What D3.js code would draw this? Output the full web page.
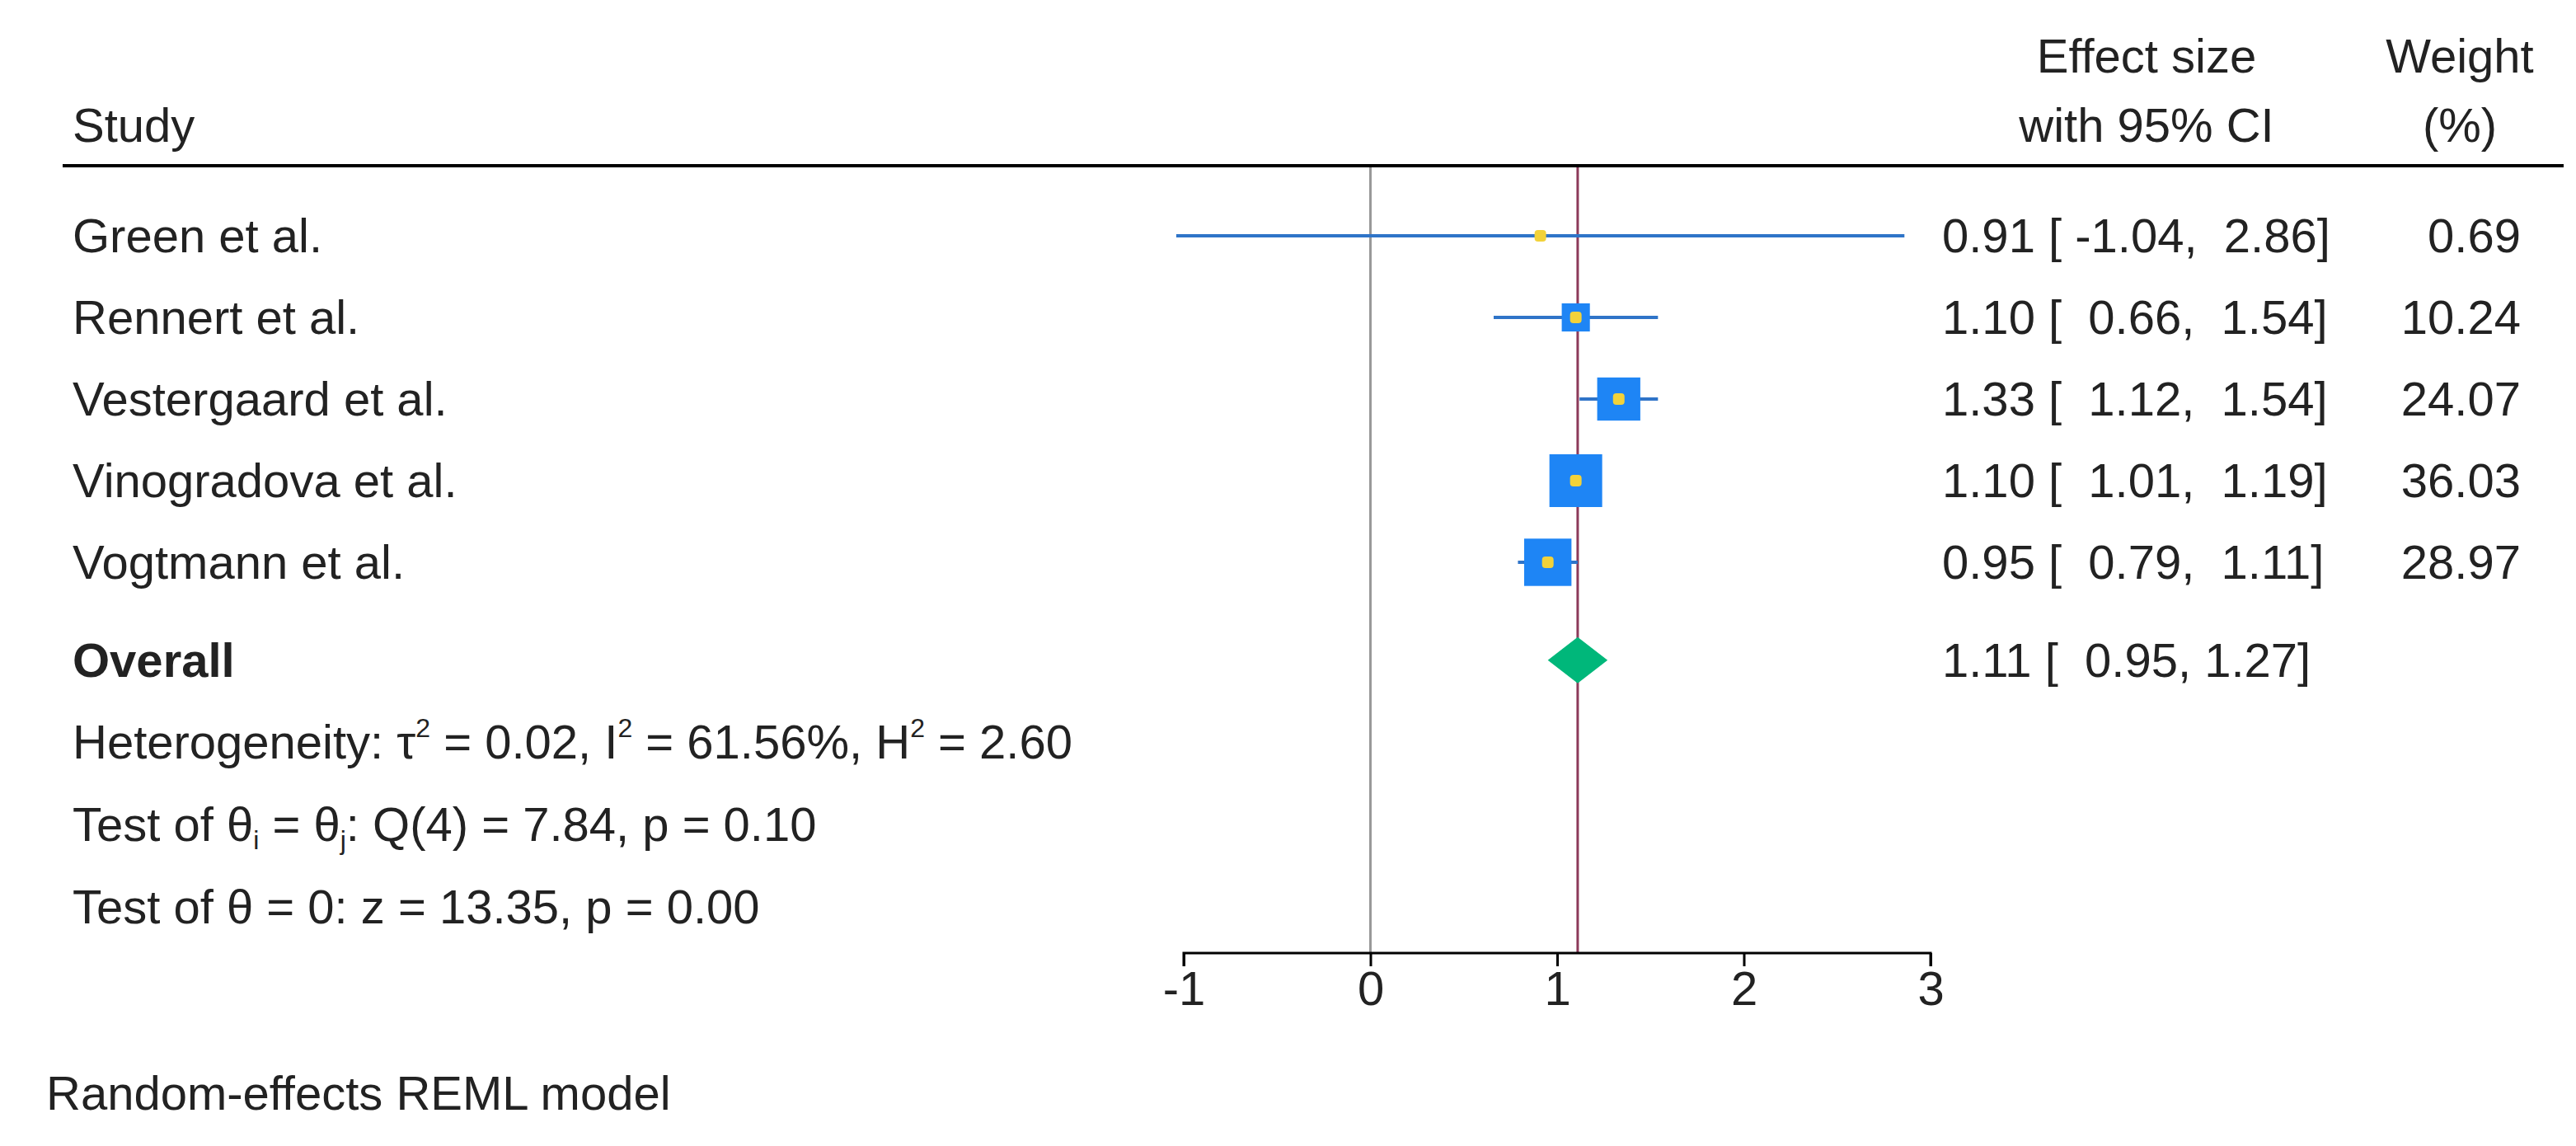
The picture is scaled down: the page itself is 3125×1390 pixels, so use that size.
<!DOCTYPE html>
<html><head><meta charset="utf-8">
<script src="https://cdn.jsdelivr.net/npm/d3@7"></script>
<style>body{margin:0;background:#fff}text{font-family:"Liberation Sans",Arial,sans-serif;fill:#222}</style>
</head><body>
<svg id="c" width="3125" height="1390"></svg>
<script>
const studies = ["Green et al.","Rennert et al.","Vestergaard et al.","Vinogradova et al.","Vogtmann et al."];
const effect = [0.91,1.10,1.33,1.10,0.95];
const lower = [-1.04,0.66,1.12,1.01,0.79];
const upper = [2.86,1.54,1.54,1.19,1.11];
const weight = [0.69,10.24,24.07,36.03,28.97];
const overall = {est:1.11, lo:0.95, hi:1.27};
const ticks = [-1,0,1,2,3];

const svg = d3.select("#c");
const fs = 58;
const x = d3.scaleLinear().domain([-1,3]).range([1436,2342]);
const rowY = d3.scaleLinear().domain([0,4]).range([286,682]);
const yOverall = rowY(5.2);
const size = d3.scaleSqrt().domain([0,36.03]).range([0,64]);
const f2 = v => d3.format(".2f")(v).replace("−","-");

// header
svg.append("text").attr("x",2604).attr("y",88).attr("font-size",fs).attr("text-anchor","middle").text("Effect size");
svg.append("text").attr("x",2604).attr("y",172).attr("font-size",fs).attr("text-anchor","middle").text("with 95% CI");
svg.append("text").attr("x",2984).attr("y",88).attr("font-size",fs).attr("text-anchor","middle").text("Weight");
svg.append("text").attr("x",2984).attr("y",172).attr("font-size",fs).attr("text-anchor","middle").text("(%)");
svg.append("text").attr("x",88).attr("y",172).attr("font-size",fs).text("Study");
svg.append("line").attr("x1",76).attr("x2",3110).attr("y1",201).attr("y2",201).attr("stroke","#000").attr("stroke-width",4);

// reference lines
svg.append("line").attr("x1",x(0)).attr("x2",x(0)).attr("y1",203).attr("y2",1156).attr("stroke","#999").attr("stroke-width",3);
svg.append("line").attr("x1",x(overall.est)).attr("x2",x(overall.est)).attr("y1",203).attr("y2",1156).attr("stroke","#8c3a5a").attr("stroke-width",3);

// study rows
studies.forEach((s,i)=>{
  const y = rowY(i);
  svg.append("text").attr("x",88).attr("y",y+20).attr("font-size",fs).text(s);
  svg.append("line").attr("x1",x(lower[i])).attr("x2",x(upper[i])).attr("y1",y).attr("y2",y).attr("stroke","#2f74c8").attr("stroke-width",4);
  const w = size(weight[i]);
  svg.append("rect").attr("x",x(effect[i])-w/2).attr("y",y-w/2).attr("width",w).attr("height",w).attr("fill","#1e85f5");
  svg.append("rect").attr("x",x(effect[i])-7).attr("y",y-7).attr("width",14).attr("height",14).attr("rx",4).attr("fill","#f2d23a");
  svg.append("text").attr("x",2356).attr("y",y+20).attr("font-size",fs).attr("xml:space","preserve")
     .text(`${f2(effect[i])} [${f2(lower[i]).padStart(6," ")}, ${f2(upper[i]).padStart(5," ")}]`);
  svg.append("text").attr("x",3058).attr("y",y+20).attr("font-size",fs).attr("text-anchor","end").text(f2(weight[i]));
});

// overall
svg.append("text").attr("x",88).attr("y",yOverall+20).attr("font-size",fs).attr("font-weight","bold").text("Overall");
svg.append("path").attr("d",`M${x(overall.lo)},${yOverall}L${x(overall.est)},${yOverall-28}L${x(overall.hi)},${yOverall}L${x(overall.est)},${yOverall+28}Z`).attr("fill","#00b77a");
svg.append("text").attr("x",2356).attr("y",yOverall+20).attr("font-size",fs).attr("xml:space","preserve")
   .text(`${f2(overall.est)} [${f2(overall.lo).padStart(6," ")}, ${f2(overall.hi)}]`);

// stats
const t1 = svg.append("text").attr("x",88).attr("y",920).attr("font-size",fs);
t1.append("tspan").text("Heterogeneity: τ");
t1.append("tspan").attr("dy",-26).attr("font-size",32).text("2");
t1.append("tspan").attr("dy",26).text(" = 0.02, I");
t1.append("tspan").attr("dy",-26).attr("font-size",32).text("2");
t1.append("tspan").attr("dy",26).text(" = 61.56%, H");
t1.append("tspan").attr("dy",-26).attr("font-size",32).text("2");
t1.append("tspan").attr("dy",26).text(" = 2.60");
const t2 = svg.append("text").attr("x",88).attr("y",1020).attr("font-size",fs);
t2.append("tspan").text("Test of θ");
t2.append("tspan").attr("dy",10).attr("font-size",32).text("i");
t2.append("tspan").attr("dy",-10).text(" = θ");
t2.append("tspan").attr("dy",10).attr("font-size",32).text("j");
t2.append("tspan").attr("dy",-10).text(": Q(4) = 7.84, p = 0.10");
svg.append("text").attr("x",88).attr("y",1120).attr("font-size",fs).text("Test of θ = 0: z = 13.35, p = 0.00");

// axis
const ax = svg.append("g").attr("transform","translate(0,1156)")
  .call(d3.axisBottom(x).tickValues(ticks).tickSize(16).tickPadding(6).tickFormat(d => String(d)));
ax.select(".domain").attr("stroke","#000").attr("stroke-width",3).attr("d",`M${x(-1)},16V0H${x(3)}V16`);
ax.selectAll(".tick line").attr("stroke","#000").attr("stroke-width",3);
ax.selectAll(".tick text").attr("font-size",fs).attr("font-family","Liberation Sans, Arial, sans-serif").attr("fill","#222");

svg.append("text").attr("x",56).attr("y",1346).attr("font-size",fs).text("Random-effects REML model");
</script>
</body></html>
